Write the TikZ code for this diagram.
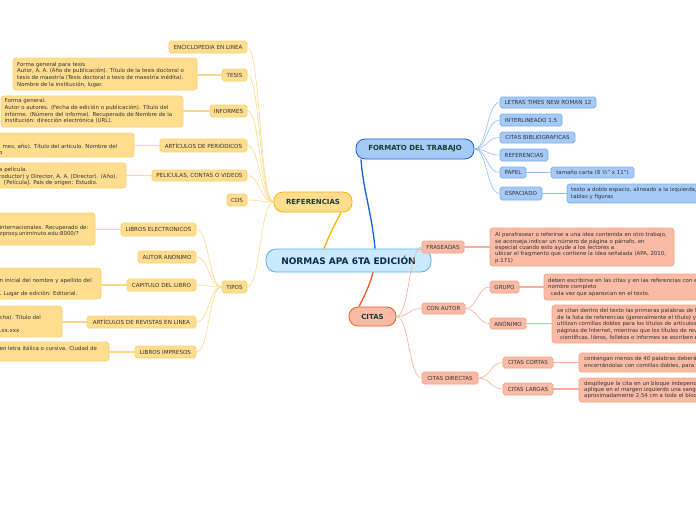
\documentclass[tikz,border=0pt]{standalone}
\usepackage{fontspec}
\setmainfont{DejaVu Sans}
\definecolor{yfill}{HTML}{FEDE8E}
\definecolor{yborder}{HTML}{FBD073}
\definecolor{yline}{HTML}{FDD987}
\definecolor{ymain}{HTML}{F7B500}
\definecolor{bfill}{HTML}{A6CAF7}
\definecolor{bborder}{HTML}{7DAEF0}
\definecolor{bline}{HTML}{93BEF3}
\definecolor{bmain}{HTML}{1660DA}
\definecolor{sfill}{HTML}{F9BBA6}
\definecolor{sborder}{HTML}{F5A286}
\definecolor{sline}{HTML}{F8AE96}
\definecolor{smain}{HTML}{F05A2A}
\definecolor{cfill}{HTML}{C8EAFC}
\definecolor{cborder}{HTML}{5AB0E2}
\definecolor{ctext}{HTML}{10294B}
\definecolor{htext}{HTML}{183D2E}
\definecolor{labtxt}{HTML}{333333}
\tikzset{
  lab/.style={rounded corners=1.8pt, inner sep=0pt, line width=0.7pt, text=labtxt,
    font=\fontsize{5.6}{6.6}\selectfont},
  ylab/.style={lab, fill=yfill, draw=yborder},
  blab/.style={lab, fill=bfill, draw=bborder},
  slab/.style={lab, fill=sfill, draw=sborder},
  ybody/.style={ylab, rounded corners=3pt},
  bbody/.style={blab, rounded corners=3pt},
  sbody/.style={slab, rounded corners=3pt},
  body/.style={inner sep=0pt, anchor=base west, text=labtxt, font=\fontsize{5.45}{6.6}\selectfont},
  head/.style={rounded corners=9pt, inner sep=0pt, line width=0.8pt, text=htext,
    font=\bfseries\fontsize{7}{8}\selectfont},
  centre/.style={rounded corners=10pt, inner sep=0pt, line width=0.8pt, text=ctext,
    fill=cfill, draw=cborder, font=\bfseries\fontsize{9}{10}\selectfont},
  ycon/.style={draw=yline, line width=0.6pt},
  bcon/.style={draw=bline, line width=0.6pt},
  scon/.style={draw=sline, line width=0.6pt},
  ytie/.style={draw=yline, line width=1.3pt},
  btie/.style={draw=bline, line width=1.3pt},
  stie/.style={draw=sline, line width=1.3pt},
  mainline/.style={line width=1.3pt},
}
\newcommand\bx[7]{\node[#1, minimum width={#4-#3}, minimum height={#6-#5}] (#2) at ({(#3+#4)/2},{(#5+#6)/2}) {#7};}
\newcommand\txt[5]{\foreach \lineT [count=\lineI] in {#5} {\node[body] (#1-\lineI) at ({#2},{#3+(\lineI-1)*#4}) {\lineT};}}
\begin{document}
\begin{tikzpicture}[x=1pt,y=-1pt]
\useasboundingbox (0,0) rectangle (696,520);
\clip (0,0) rectangle (696,520);
\fill[white] (0,0) rectangle (696,520);

% main nodes
\bx{centre}{apa}{266}{431}{249}{272}{NORMAS APA 6TA EDICIÓN}
\bx{head, fill=yfill, draw=ymain}{ref}{274}{352}{192}{212}{REFERENCIAS}
\bx{head, fill=sfill, draw=smain}{citas}{349}{396}{307}{326}{CITAS}
\bx{head, fill=bfill, draw=bmain}{formato}{356}{474}{139}{159}{FORMATO DEL TRABAJO}

% REFERENCIAS branch
\bx{ylab}{enc}{169}{247}{41}{53}{ENCICLOPEDIA EN LINEA}
\bx{ylab}{tesis}{222}{247}{69}{81}{TESIS}
\bx{ylab}{inf}{210}{247}{105}{117}{INFORMES}
\bx{ylab}{artper}{160}{247}{139}{152}{ARTÍCULOS DE PERIÓDICOS}
\bx{ylab}{pelic}{152}{247}{170}{181}{PELICULAS, CONTAS O VIDEOS}
\bx{ylab}{cds}{227}{247}{194}{206}{CDS}
\bx{ylab}{tipos}{222}{247}{281}{293}{TIPOS}
\bx{ylab}{libel}{121}{196}{223}{236}{LIBROS ELECTRONICOS}
\bx{ylab}{autan}{138}{196}{251}{263}{AUTOR ANÓNIMO}
\bx{ylab}{caplib}{127}{196}{279}{291}{CAPITULO DEL LIBRO}
\bx{ylab}{artrev}{87}{196}{316}{328}{ARTÍCULOS DE REVISTAS EN LINEA}
\bx{ylab}{libimp}{135}{196}{346}{358}{LIBROS IMPRESOS}

\bx{ybody}{tesisb}{13}{197}{58}{90}{}
\txt{tesist}{17}{66}{6.8}{{Forma general para tesis},{Autor, A. A. (Año de publicación). Título de la tesis doctoral o},{tesis de maestría (Tesis doctoral o tesis de maestría inédita).},{Nombre de la institución, lugar.}}
\bx{ybody}{infb}{1}{183}{96}{127}{}
\txt{inft}{4.5}{102.7}{6.7}{{Forma general.},{Autor o autores. (Fecha de edición o publicación). Título del},{informe. (Número del informe). Recuperado de Nombre de la},{institución: dirección electrónica (URL).}}
\bx{ybody}{artperb}{-40}{134}{133}{157}{}
\txt{artpert}{-1}{148}{6}{{, mes, año). Título del artículo. Nombre del},{o}}
\bx{ybody}{pelicb}{-40}{126}{163}{188}{}
\txt{pelict}{-1}{171.6}{6.5}{{a película.},{roductor) y Director, A. A. (Director). (Año).}}
\node[body] (pelict-3) at (4,184.6) {[Película]. País de origen: Estudio.};
\bx{ybody}{libelb}{-40}{95}{213}{245}{}
\txt{libelt}{-0.5}{229.8}{5.4}{{internacionales. Recuperado de:},{zproxy.uniminuto.edu:8000/?}}
\bx{ybody}{caplibb}{-40}{101}{268}{299}{}
\txt{caplibt}{-0.5}{282.6}{12.4}{{n inicial del nombre y apellido del},{. Lugar de edición: Editorial.}}
\bx{ybody}{artrevb}{-40}{62}{306}{337}{}
\txt{artrevt}{-0.5}{319.3}{13.4}{{cha). Título del},{.xx.xxx}}
\bx{ybody}{libimpb}{-40}{109}{342}{361}{}
\txt{libimpt}{-0.5}{350.3}{6.6}{{en letra itálica o cursiva. Ciudad de}}

% FORMATO branch
\bx{blab}{ltnr}{500}{596}{97}{108}{LETRAS TIMES NEW ROMAN 12}
\bx{blab}{inter}{500}{562}{114}{126}{INTERLINEADO 1.5}
\bx{blab}{citb}{500}{575}{132}{143}{CITAS BIBLIOGRAFICAS}
\bx{blab}{refs}{500}{548}{149}{161}{REFERENCIAS}
\bx{blab}{papel}{500}{526}{167}{178}{PAPEL}
\bx{blab, font=\fontsize{5.45}{6.6}\selectfont}{tam}{551}{634}{167}{178}{tamaño carta (8 ½" x 11")}
\bx{blab}{esp}{500}{542}{187}{200}{ESPACIADO}
\bx{bbody}{espb}{567}{740}{184}{203}{}
\txt{espt}{571}{191.6}{6.8}{{texto a doble espacio, alineado a la izquierda, con},{tablas y figuras}}

% CITAS branch
\bx{slab}{fras}{422}{464}{241}{253}{FRASEADAS}
\bx{slab}{cona}{422}{465}{303}{314}{CON AUTOR}
\bx{slab}{grupo}{490}{519}{281}{293}{GRUPO}
\bx{slab}{anon}{490}{526}{318}{329}{ANÓNIMO}
\bx{slab}{cdir}{422}{478}{372}{384}{CITAS DIRECTAS}
\bx{slab}{ccor}{503}{553}{357}{368}{CITAS CORTAS}
\bx{slab}{clar}{503}{553}{383}{395}{CITAS LARGAS}

\bx{sbody}{frasb}{490}{674}{228}{266}{}
\txt{frast}{495}{236.7}{6.4}{{Al parafrasear o referirse a una idea contenida en otro trabajo,},{se aconseja indicar un número de página o párrafo, en},{especial cuando esto ayude a los lectores a},{ubicar el fragmento que contiene la idea señalada (APA, 2010,},{p.171)}}
\bx{sbody}{grupob}{544}{740}{274}{300}{}
\txt{grupot}{548}{282.4}{6.5}{{deben escribirse en las citas y en las referencias con el},{nombre completo},{\hspace*{2.5pt}cada vez que aparezcan en el texto.}}
\bx{sbody}{anonb}{552}{740}{305}{343}{}
\txt{anont}{557}{312.4}{6.65}{{se citan dentro del texto las primeras palabras de la entrada},{de la lista de referencias (generalmente el título) y se},{utilizan comillas dobles para los títulos de artículos, capítulos},{páginas de Internet, mientras que los títulos de revistas},{\hspace*{3pt}científicas, libros, folletos o informes se escriben en cursiva}}
\bx{sbody}{ccorb}{579}{740}{353}{372}{}
\txt{ccort}{584}{360.7}{6.8}{{contengan menos de 40 palabras deberán incorporarse},{encerrándolas con comillas dobles, para diferenciarlas}}
\bx{sbody}{clarb}{579}{740}{378}{402}{}
\txt{clart}{584}{385}{6.4}{{despliegue la cita en un bloque independiente del texto},{aplique en el margen izquierdo una sangría de},{aproximadamente 2,54 cm a todo el bloque}}

% main connectors
\draw[mainline, draw=ymain] ([xshift=-24.5pt]apa.north) .. controls +(6,-16) and +(-6,12) .. ([xshift=28pt]ref.south);
\draw[mainline, draw=bmain] ([xshift=26.5pt]apa.north) .. controls +(-3,-35) and +(2,30) .. ([xshift=-54pt]formato.south);
\draw[mainline, draw=smain] ([xshift=24.5pt]apa.south) .. controls +(-3,12) and +(6,-12) .. ([xshift=-13.5pt]citas.north);

% REFERENCIAS connectors
\foreach \c in {enc,tesis,inf,artper,pelic,cds,tipos}
  \draw[ycon] (ref.west) .. controls +(-14,0) and +(13,0) .. (\c.east);
\foreach \c in {libel,autan,caplib,artrev,libimp}
  \draw[ycon] (tipos.west) .. controls +(-13,0) and +(13,0) .. (\c.east);
\foreach \c in {tesis,inf,artper,pelic,libel,caplib,artrev,libimp}
  \draw[ytie] (\c.west) -- (\c.west -| \c b.east);

% FORMATO connectors
\foreach \c in {ltnr,inter,citb,refs,papel,esp}
  \draw[bcon] (formato.east) .. controls +(13,0) and +(-13,0) .. (\c.west);
\draw[btie] (papel.east) -- (papel.east -| tam.west);
\draw[btie] (esp.east) -- (esp.east -| espb.west);

% CITAS connectors
\foreach \c in {fras,cona,cdir}
  \draw[scon] (citas.east) .. controls +(13,0) and +(-13,0) .. (\c.west);
\foreach \c in {grupo,anon}
  \draw[scon] (cona.east) .. controls +(12,0) and +(-12,0) .. (\c.west);
\foreach \c in {ccor,clar}
  \draw[scon] (cdir.east) .. controls +(12,0) and +(-12,0) .. (\c.west);
\foreach \c in {fras,grupo,anon,ccor,clar}
  \draw[stie] (\c.east) -- (\c.east -| \c b.west);
\end{tikzpicture}
\end{document}
